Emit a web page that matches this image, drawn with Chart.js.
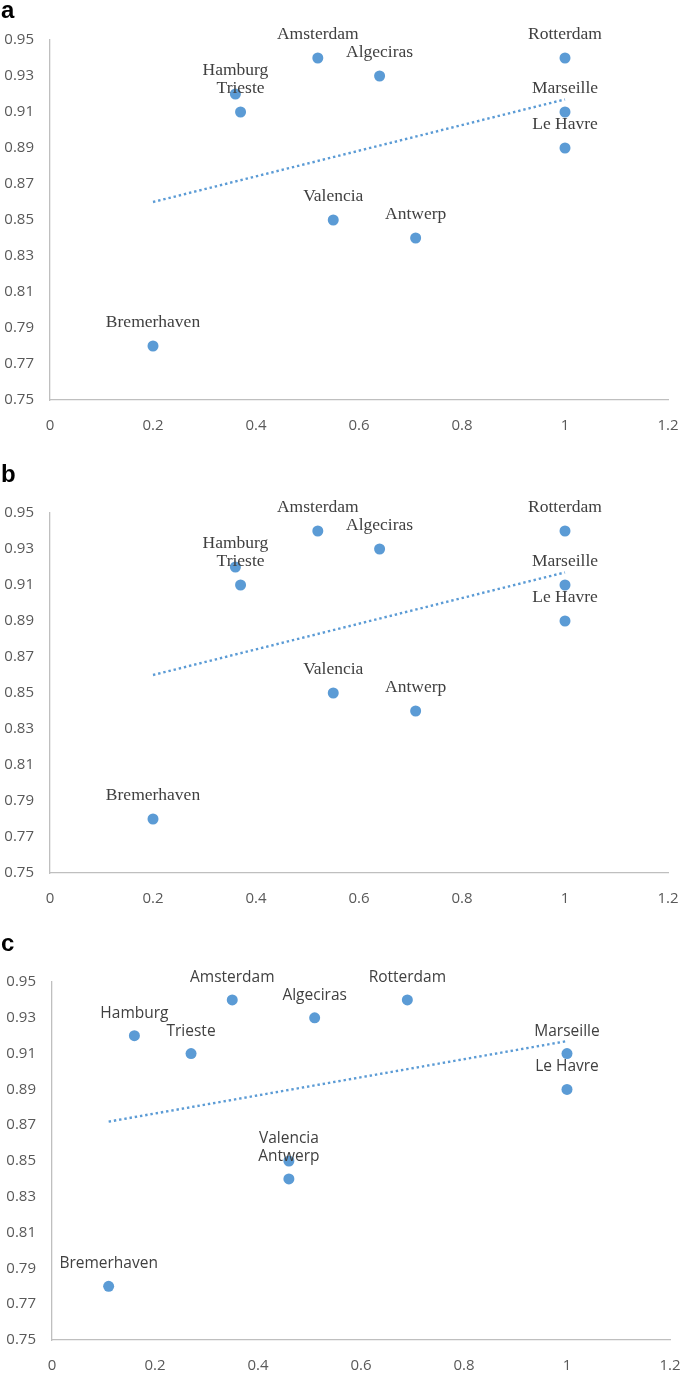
<!DOCTYPE html>
<html>
<head>
<meta charset="utf-8">
<script src="https://cdn.jsdelivr.net/npm/chart.js@4.4.1/dist/chart.umd.min.js"></script>
<style>
  html, body { margin: 0; padding: 0; background: #ffffff; }
  body { width: 685px; height: 1376px; position: relative; overflow: hidden; }
  canvas { position: absolute; left: 0; }
</style>
</head>
<body>
<canvas id="chartA" width="685" height="450" style="top:0px"></canvas>
<canvas id="chartB" width="685" height="470" style="top:453px"></canvas>
<canvas id="chartC" width="685" height="456" style="top:920px"></canvas>
<script>
// ---- data ----
const portNames = ['Hamburg', 'Trieste', 'Amsterdam', 'Algeciras', 'Rotterdam', 'Marseille', 'Le Havre', 'Valencia', 'Antwerp', 'Bremerhaven'];

const xA = [0.36, 0.37, 0.52, 0.64, 1.00, 1.00, 1.00, 0.55, 0.71, 0.20];
const yA = [0.92, 0.91, 0.94, 0.93, 0.94, 0.91, 0.89, 0.85, 0.84, 0.78];
const trendXA = [0.20, 1.00];
const trendYA = [0.860, 0.917];

const xB = [0.36, 0.37, 0.52, 0.64, 1.00, 1.00, 1.00, 0.55, 0.71, 0.20];
const yB = [0.92, 0.91, 0.94, 0.93, 0.94, 0.91, 0.89, 0.85, 0.84, 0.78];
const trendXB = [0.20, 1.00];
const trendYB = [0.860, 0.917];

const xC = [0.16, 0.27, 0.35, 0.51, 0.69, 1.00, 1.00, 0.46, 0.46, 0.11];
const yC = [0.92, 0.91, 0.94, 0.93, 0.94, 0.91, 0.89, 0.85, 0.84, 0.78];
const trendXC = [0.11, 1.00];
const trendYC = [0.872, 0.917];

const xTickValues = [0, 0.2, 0.4, 0.6, 0.8, 1.0, 1.2];
const xTickLabels = ['0', '0.2', '0.4', '0.6', '0.8', '1', '1.2'];
const yTickValues = [0.75, 0.77, 0.79, 0.81, 0.83, 0.85, 0.87, 0.89, 0.91, 0.93, 0.95];
const yTickLabels = ['0.75', '0.77', '0.79', '0.81', '0.83', '0.85', '0.87', '0.89', '0.91', '0.93', '0.95'];

const panelLetters = ['a', 'b', 'c'];

// ---- styles ----
const BLUE = '#5B9BD5';
const AXIS = '#bfbfbf';
const TICK = '#595959';
const LABEL = '#404040';

const labelPlugin = {
  id: 'pointLabels',
  afterDatasetsDraw(chart, args, opts) {
    const ctx = chart.ctx;
    const meta = chart.getDatasetMeta(0);
    ctx.save();
    ctx.font = opts.font;
    ctx.fillStyle = LABEL;
    ctx.textAlign = 'center';
    ctx.textBaseline = 'alphabetic';
    meta.data.forEach((pt, i) => {
      ctx.fillText(opts.names[i], pt.x, pt.y - opts.offset);
    });
    ctx.restore();
  }
};

const letterPlugin = {
  id: 'panelLetter',
  afterDraw(chart, args, opts) {
    const ctx = chart.ctx;
    ctx.save();
    ctx.font = 'bold 24px "Liberation Sans", Arial, sans-serif';
    ctx.fillStyle = '#000000';
    ctx.textAlign = 'left';
    ctx.textBaseline = 'alphabetic';
    ctx.fillText(opts.letter, opts.x, opts.y);
    ctx.restore();
  }
};

function makeChart(id, xs, ys, tx, ty, cfg) {
  const pts = xs.map((x, i) => ({ x: x, y: ys[i] }));
  const trend = tx.map((x, i) => ({ x: x, y: ty[i] }));
  return new Chart(document.getElementById(id), {
    type: 'scatter',
    data: {
      datasets: [
        {
          data: pts,
          backgroundColor: BLUE,
          borderWidth: 0,
          pointRadius: 5.5,
          pointHoverRadius: 5.5,
          order: 2
        },
        {
          type: 'line',
          data: trend,
          borderColor: BLUE,
          borderWidth: 2.4,
          borderDash: [2.4, 2.9],
          pointRadius: 0,
          fill: false,
          tension: 0,
          order: 1
        }
      ]
    },
    options: {
      responsive: false,
      animation: false,
      devicePixelRatio: 1,
      layout: { padding: { left: 0, right: cfg.padRight, top: cfg.padTop, bottom: 0 } },
      plugins: {
        legend: { display: false },
        tooltip: { enabled: false },
        pointLabels: { names: portNames, font: cfg.labelFont, offset: cfg.labelOffset },
        panelLetter: { letter: cfg.letter, x: cfg.letterX, y: cfg.letterY }
      },
      scales: {
        x: {
          type: 'linear',
          min: 0, max: 1.2,
          afterBuildTicks(scale) { scale.ticks = xTickValues.map(v => ({ value: v })); },
          afterFit(scale) {
            scale.height = cfg.xHeight;
            scale.paddingLeft = 0; scale.paddingRight = 0;
            scale.paddingTop = 0; scale.paddingBottom = 0;
          },
          grid: { display: false, drawTicks: false },
          border: { display: true, color: AXIS, width: 1.3 },
          ticks: {
            color: TICK,
            font: { family: '"Open Sans", sans-serif', size: 15 },
            padding: 17,
            maxRotation: 0,
            autoSkip: false,
            callback: (v, i) => xTickLabels[i]
          }
        },
        y: {
          type: 'linear',
          min: 0.75, max: 0.95,
          afterBuildTicks(scale) { scale.ticks = yTickValues.map(v => ({ value: v })); },
          afterFit(scale) {
            scale.width = cfg.yWidth;
            scale.paddingLeft = 0; scale.paddingRight = 0;
            scale.paddingTop = 0; scale.paddingBottom = 0;
          },
          grid: { display: false, drawTicks: false },
          border: { display: true, color: AXIS, width: 1.3 },
          ticks: {
            color: TICK,
            font: { family: '"Open Sans", sans-serif', size: 15 },
            padding: 16,
            autoSkip: false,
            callback: (v, i) => yTickLabels[i]
          }
        }
      }
    },
    plugins: [labelPlugin, letterPlugin]
  });
}

makeChart('chartA', xA, yA, trendXA, trendYA, {
  padRight: 17, padTop: 40, xHeight: 50, yWidth: 50,
  labelFont: '17.5px "Liberation Serif", "Times New Roman", serif', labelOffset: 19,
  letter: panelLetters[0], letterX: 1, letterY: 18
});
makeChart('chartB', xB, yB, trendXB, trendYB, {
  padRight: 17, padTop: 60, xHeight: 50, yWidth: 50,
  labelFont: '17.5px "Liberation Serif", "Times New Roman", serif', labelOffset: 19,
  letter: panelLetters[1], letterX: 1, letterY: 29
});
makeChart('chartC', xC, yC, trendXC, trendYC, {
  padRight: 15, padTop: 62, xHeight: 36, yWidth: 52,
  labelFont: '15.5px "Open Sans", sans-serif', labelOffset: 18,
  letter: panelLetters[2], letterX: 1, letterY: 31
});
</script>
</body>
</html>
